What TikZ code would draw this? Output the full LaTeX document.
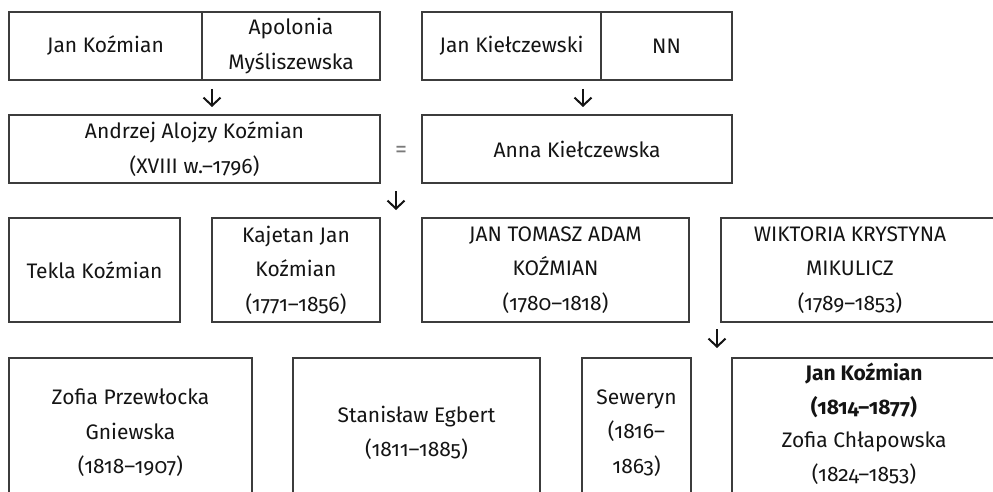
\documentclass[tikz,border=0pt]{standalone}
\usepackage{fontspec}
\setmainfont{Fira Sans}[Numbers=OldStyle]
\usetikzlibrary{arrows.meta}
\definecolor{boxline}{HTML}{3C3C3C}
\definecolor{ink}{HTML}{141414}
\definecolor{eqgray}{HTML}{7A7A7A}
\begin{document}
\begin{tikzpicture}[x=1pt,y=-1pt,
  box/.style={draw=boxline, line width=1.2pt, text=ink, align=center, inner sep=0pt,
    font=\fontsize{21}{34.5}\selectfont},
  txt/.style={text=ink, align=center, inner sep=0pt, font=\fontsize{21}{34.5}\selectfont},
  down/.style={draw=ink, line width=2pt, -{Straight Barb[length=8pt,width=17pt]}}]
\useasboundingbox (0,0) rectangle (993,492);
\clip (0,0) rectangle (993,492);
% row 1
\node[box, minimum width=193pt, minimum height=68pt] (A1) at (105.5,46) {Jan Koźmian};
\node[box, minimum width=178pt, minimum height=68pt] (A2) at (291,46) {Apolonia\\Myśliszewska};
\node[box, minimum width=179pt, minimum height=68pt] (B1) at (511.5,46) {Jan Kiełczewski};
\node[box, minimum width=131pt, minimum height=68pt] (B2) at (666.5,46) {NN};
% row 2
\node[box, minimum width=371pt, minimum height=68pt] (C) at (194.5,149) {Andrzej Alojzy Koźmian\\(XVIII w.–1796)};
\node[box, minimum width=310pt, minimum height=68pt] (D) at (577,149) {Anna Kiełczewska};
\node[text=eqgray, font=\fontsize{24}{24}\selectfont, inner sep=0pt] (eq) at (401,152) {=};
% row 3
\node[box, minimum width=171pt, minimum height=104pt] (E) at (94.5,270) {Tekla Koźmian};
\node[box, minimum width=168pt, minimum height=104pt] (F) at (296,270) {Kajetan Jan\\Koźmian\\(1771–1856)};
\node[box, minimum width=267pt, minimum height=104pt] (G) at (555.5,270) {JAN TOMASZ ADAM\\KOŹMIAN\\(1780–1818)};
\node[box, minimum width=280pt, minimum height=104pt] (H) at (861,270) {};
\node[txt] (Ht) at (850,270) {WIKTORIA KRYSTYNA\\MIKULICZ\\(1789–1853)};
% row 4
\node[box, minimum width=243pt, minimum height=150pt] (I) at (130.5,433) {Zofia Przewłocka\\Gniewska\\(1818–1907)};
\node[box, minimum width=247pt, minimum height=150pt] (J) at (416.5,433) {Stanisław Egbert\\(1811–1885)};
\node[box, minimum width=109pt, minimum height=150pt] (K) at (636.5,433) {Seweryn\\(1816–\\1863)};
\node[box, minimum width=264pt, minimum height=150pt] (L) at (864,433) {};
\node[txt, font=\fontsize{21}{33.5}\selectfont] (Lt) at (864,424) {\textbf{Jan Koźmian}\\\textbf{(1814–1877)}\\Zofia Chłapowska\\(1824–1853)};
% arrows
\coordinate (a1s) at (212,89);  \coordinate (a1e) at (212,107);
\coordinate (a2s) at (583,89);  \coordinate (a2e) at (583,107);
\coordinate (a3s) at (396,191); \coordinate (a3e) at (396,210);
\coordinate (a4s) at (717,329); \coordinate (a4e) at (717,348);
\draw[down] (a1s) -- (a1e);
\draw[down] (a2s) -- (a2e);
\draw[down] (a3s) -- (a3e);
\draw[down] (a4s) -- (a4e);
\end{tikzpicture}
\end{document}
